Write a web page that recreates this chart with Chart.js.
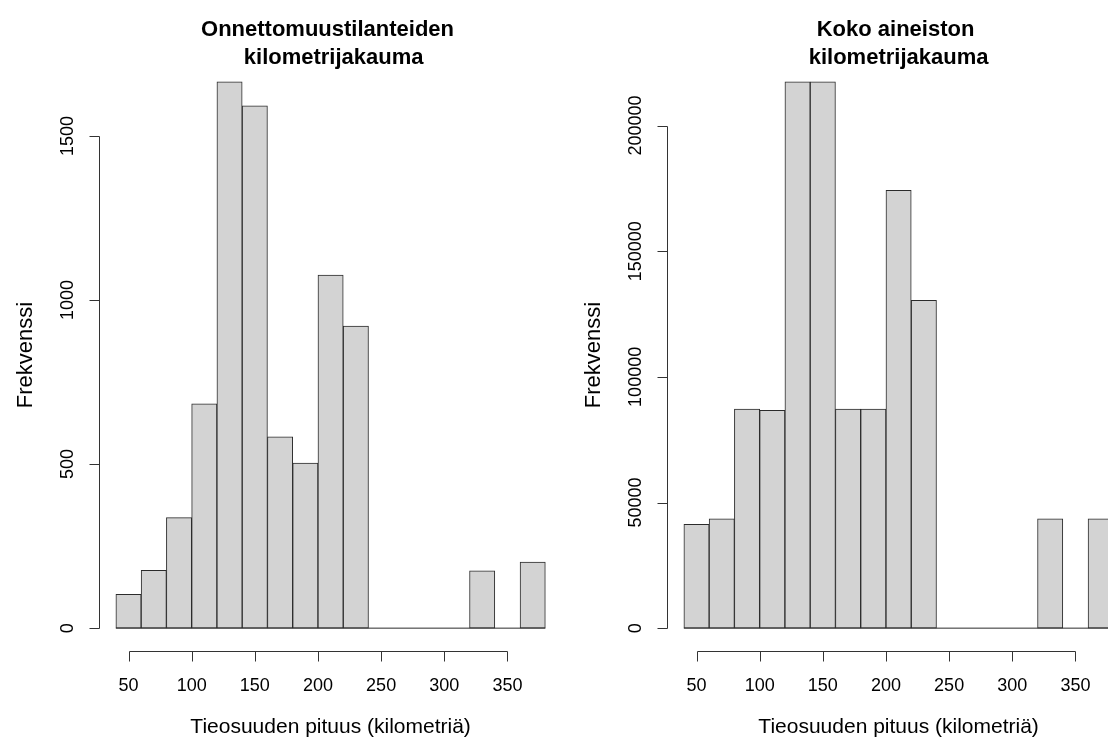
<!DOCTYPE html>
<html lang="fi">
<head>
<meta charset="UTF-8">
<title>Kilometrijakauma</title>
<script src="https://cdn.jsdelivr.net/npm/chart.js@4"></script>
<style>
    html, body { margin: 0; padding: 0; background: #fff; overflow: hidden; }
    #wrap { position: relative; width: 1140px; height: 742px; }
    .panel { position: absolute; top: 0; width: 570px; height: 742px; }
</style>
</head>
<body>
<div id="wrap">
    <div class="panel" style="left:0"><canvas id="left"></canvas></div>
    <div class="panel" style="left:568px"><canvas id="right"></canvas></div>
</div>
<script>
// histogrammin luokkarajat (km)
const breaks = [40, 60, 80, 100, 120, 140, 160, 180, 200, 220, 240, 260, 280, 300, 320, 340, 360, 380];
// frekvenssit luokittain
const accidentCounts = [103, 176, 337, 684, 1665, 1592, 583, 503, 1076, 921, 0, 0, 0, 0, 175, 0, 201];
const allCounts = [41350, 43500, 87200, 86700, 217400, 217400, 87200, 87200, 174200, 130500, 0, 0, 0, 0, 43500, 0, 43500];

const xTicks = [50, 100, 150, 200, 250, 300, 350];
const accidentYTicks = [0, 500, 1000, 1500];
const allYTicks = [0, 50000, 100000, 150000, 200000];

const accidentTitle = ['Onnettomuustilanteiden ', ' kilometrijakauma'];
const allTitle = ['Koko aineiston ', 'kilometrijakauma'];
const xLabel = 'Tieosuuden pituus (kilometriä)';
const yLabel = 'Frekvenssi';

const FONT = '"Liberation Sans", Arial, sans-serif';
const LINE = '#333';

// R-tyyliset akselit ja otsikot
const rAxes = {
    id: 'rAxes',
    afterDraw(chart, args, opts) {
        const ctx = chart.ctx;
        const xs = chart.scales.x, ys = chart.scales.y, area = chart.chartArea;
        ctx.save();
        ctx.strokeStyle = LINE;
        ctx.lineWidth = 1;
        ctx.fillStyle = '#000';

        // x-akseli
        const axY = 651.5;
        const x0 = Math.round(xs.getPixelForValue(xTicks[0])) + 0.5;
        const x1 = Math.round(xs.getPixelForValue(xTicks[xTicks.length - 1])) + 0.5;
        ctx.beginPath();
        ctx.moveTo(x0, axY); ctx.lineTo(x1, axY);
        xTicks.forEach(t => {
            const px = Math.round(xs.getPixelForValue(t)) + 0.5;
            ctx.moveTo(px, axY); ctx.lineTo(px, axY + 10);
        });
        ctx.stroke();
        ctx.font = '18px ' + FONT;
        ctx.textAlign = 'center';
        ctx.textBaseline = 'alphabetic';
        xTicks.forEach(t => ctx.fillText(String(t), xs.getPixelForValue(t), 691));
        ctx.font = '21px ' + FONT;
        ctx.fillText(xLabel, (area.left + area.right) / 2, 733);

        // y-akseli
        const axX = Math.round(area.left) + 0.5;
        const yt = opts.yTicks;
        const y0 = Math.round(ys.getPixelForValue(yt[0])) + 0.5;
        const y1 = Math.round(ys.getPixelForValue(yt[yt.length - 1])) + 0.5;
        ctx.beginPath();
        ctx.moveTo(axX, y0); ctx.lineTo(axX, y1);
        yt.forEach(t => {
            const py = Math.round(ys.getPixelForValue(t)) + 0.5;
            ctx.moveTo(axX, py); ctx.lineTo(axX - 10, py);
        });
        ctx.stroke();
        ctx.font = '18px ' + FONT;
        yt.forEach(t => {
            ctx.save();
            ctx.translate(axX - 26.5, ys.getPixelForValue(t));
            ctx.rotate(-Math.PI / 2);
            ctx.fillText(String(t), 0, 0);
            ctx.restore();
        });
        ctx.save();
        ctx.font = '22px ' + FONT;
        ctx.translate(32, (area.top + area.bottom) / 2);
        ctx.rotate(-Math.PI / 2);
        ctx.fillText(yLabel, 0, 0);
        ctx.restore();

        // otsikko
        ctx.font = 'bold 22px ' + FONT;
        const cx = (area.left + area.right) / 2;
        opts.title.forEach((line, i) => ctx.fillText(line, cx, 36 + i * 27.5));
        ctx.restore();
    }
};

function histogram(canvasId, counts, yTicks, title) {
    const top = Math.max(...counts);
    const bars = counts.map((c, i) => ({ x: (breaks[i] + breaks[i + 1]) / 2, y: c }));
    const xPad = (breaks[breaks.length - 1] - breaks[0]) * 0.04;
    return new Chart(document.getElementById(canvasId), {
        type: 'bar',
        data: {
            datasets: [{
                type: 'line',
                data: [{ x: breaks[0], y: 0 }, { x: breaks[breaks.length - 1], y: 0 }],
                borderColor: '#2b2b2b',
                borderWidth: 1,
                pointRadius: 0
            }, {
                data: bars,
                backgroundColor: '#d3d3d3',
                borderColor: '#2b2b2b',
                borderWidth: 1,
                borderSkipped: false,
                barPercentage: 1,
                categoryPercentage: 1,
                grouped: false
            }]
        },
        options: {
            responsive: true,
            maintainAspectRatio: false,
            animation: false,
            layout: { padding: { left: 98.7, right: 7.5, top: 60, bottom: 92 } },
            scales: {
                x: {
                    type: 'linear',
                    display: false,
                    offset: false,
                    min: breaks[0] - xPad,
                    max: breaks[breaks.length - 1] + xPad
                },
                y: {
                    display: false,
                    min: -top * 0.04,
                    max: top * 1.04
                }
            },
            plugins: {
                legend: { display: false },
                tooltip: { enabled: false },
                rAxes: { yTicks: yTicks, title: title }
            }
        },
        plugins: [rAxes]
    });
}

histogram('left', accidentCounts, accidentYTicks, accidentTitle);
histogram('right', allCounts, allYTicks, allTitle);
</script>
</body>
</html>
